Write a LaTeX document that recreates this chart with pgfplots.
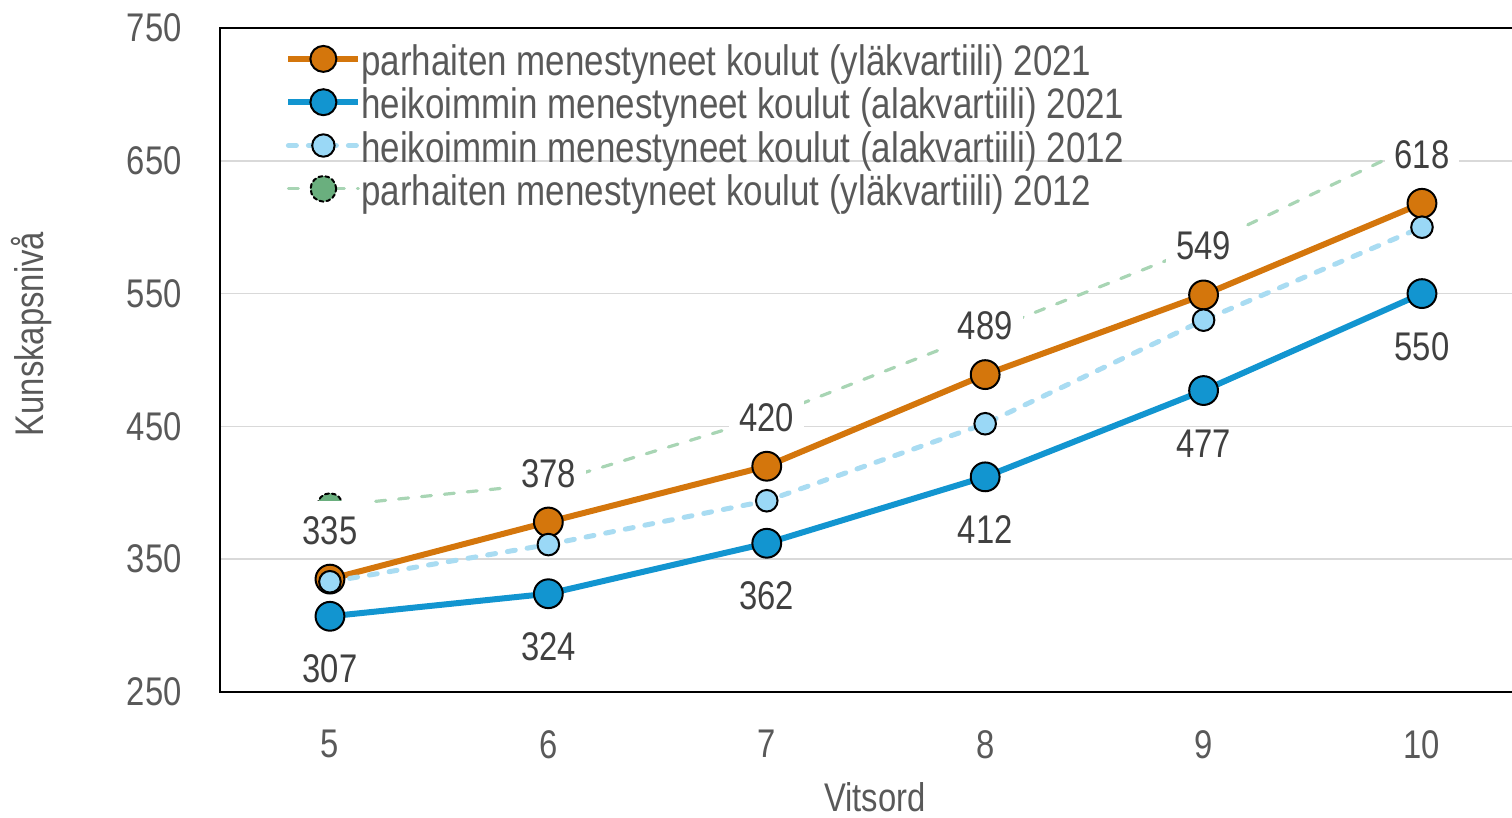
\documentclass[border=0pt]{standalone}
\usepackage{fontspec}
\setmainfont{Liberation Sans}[FakeStretch=0.82]
\usepackage{pgfplots}
\pgfplotsset{compat=1.18}
\definecolor{cOr}{HTML}{D4760C}
\definecolor{cBl}{HTML}{1295D0}
\definecolor{cLbM}{HTML}{9AD8F6}
\definecolor{cLbL}{HTML}{A9DCF2}
\definecolor{cGrL}{HTML}{A8D5B4}
\definecolor{cGrM}{HTML}{6AAF7E}
\definecolor{cGrid}{HTML}{D9D9D9}
\definecolor{cText}{HTML}{595959}
\definecolor{cLab}{HTML}{404040}
\begin{document}
\begin{tikzpicture}
\path[use as bounding box] (-110pt,-63pt) rectangle (646pt,346pt);
\begin{axis}[
  scale only axis, width=648pt, height=332pt,
  xmin=4.4965, xmax=10.4305, ymin=250, ymax=750,
  xtick={5,...,10}, ytick={250,350,...,750},
  major tick length=0pt,
  ymajorgrids, grid style={draw=cGrid, line width=0.8pt},
  axis line style={line width=1.2pt, black},
  /pgf/number format/assume math mode=true,
  ticklabel style={font=\fontsize{20}{24}\selectfont, text=cText},
  xticklabel style={anchor=north, inner sep=0pt, yshift=-19pt},
  yticklabel style={anchor=east, inner sep=0pt, xshift=-19pt},
  xlabel={Vitsord}, ylabel={Kunskapsnivå},
  label style={font=\fontsize{20}{24}\selectfont, text=cText},
  xlabel style={at={(rel axis cs:0.5054,0)}, anchor=north, inner sep=0pt, yshift=-45pt},
  ylabel style={at={(rel axis cs:-0.1458,0.539)}, anchor=center, inner sep=0pt},
  legend style={at={(rel axis cs:0,1)}, anchor=north west, xshift=32.5pt, yshift=-8.5pt,
    draw=none, fill=none, font=\fontsize{21.3}{24}\selectfont, text=cText,
    row sep=2.15pt, inner sep=0pt,
    nodes={inner sep=0pt, text height=15pt, text depth=4.5pt},
    /tikz/every odd column/.style={column sep=0pt}},
  legend cell align=left,
  legend image code/.code={\draw[mark repeat=2,mark phase=2,#1] plot coordinates {(0pt,3pt) (17.5pt,3pt) (35pt,3pt)};},
]
\addlegendimage{cOr, line width=3pt, mark=*, mark size=6.5pt, mark options={fill=cOr, draw=black, line width=1pt, solid}}
\addlegendentry{parhaiten menestyneet koulut (yläkvartiili) 2021}
\addlegendimage{cBl, line width=3pt, mark=*, mark size=6.5pt, mark options={fill=cBl, draw=black, line width=1pt, solid}}
\addlegendentry{heikoimmin menestyneet koulut (alakvartiili) 2021}
\addlegendimage{cLbL, line width=2.5pt, line cap=round, dash pattern=on 4pt off 6pt, mark=*, mark size=5.6pt, mark options={fill=cLbM, draw=black, line width=1pt, solid}}
\addlegendentry{heikoimmin menestyneet koulut (alakvartiili) 2012}
\addlegendimage{cGrL, line width=1.6pt, line cap=round, dash pattern=on 5pt off 6.5pt, mark=*, mark size=6.4pt, mark options={fill=cGrM, draw=black, line width=1pt, dash pattern=on 2pt off 1.5pt}}
\addlegendentry{parhaiten menestyneet koulut (yläkvartiili) 2012}

% 2012 upper quartile (green)
\addplot[forget plot, cGrL, line width=1.6pt, line cap=round, dash pattern=on 5pt off 6.5pt, mark=*, mark size=6.4pt, mark options={fill=cGrM, draw=black, line width=1pt, dash pattern=on 2pt off 1.5pt}]
  coordinates {(5,390) (6,407) (7,457) (8,521) (9,586) (10,664)};
% 2021 upper quartile (orange)
\addplot[forget plot, cOr, line width=3pt, mark=*, mark size=7.2pt, mark options={fill=cOr, draw=black, line width=1pt, solid}]
  coordinates {(5,335) (6,378) (7,420) (8,489) (9,549) (10,618)};
% 2021 lower quartile (blue)
\addplot[forget plot, cBl, line width=3pt, mark=*, mark size=7.2pt, mark options={fill=cBl, draw=black, line width=1pt, solid}]
  coordinates {(5,307) (6,324) (7,362) (8,412) (9,477) (10,550)};
% 2012 lower quartile (light blue)
\addplot[forget plot, cLbL, line width=2.5pt, line cap=round, dash pattern=on 4pt off 6pt, mark=*, mark size=5.4pt, mark options={fill=cLbM, draw=black, line width=1pt, solid}]
  coordinates {(5,333) (6,361) (7,394) (8,452) (9,530) (10,600)};

% data labels
\addplot[forget plot, draw=none, mark=none, nodes near coords, point meta=y,
  every node near coord/.append style={anchor=base, yshift=17.5pt, fill=white, inner xsep=5pt, inner ysep=3pt, text height=18.8pt, text depth=3pt, font=\fontsize{20}{24}\selectfont, text=cLab}]
  coordinates {(5,335) (6,378) (7,420) (8,489) (9,549) (10,618)};
\addplot[forget plot, draw=none, mark=none, nodes near coords, point meta=y,
  every node near coord/.append style={anchor=base, yshift=-33.3pt, inner sep=2pt, font=\fontsize{20}{24}\selectfont, text=cLab}]
  coordinates {(5,307) (6,324) (7,362) (8,412) (9,477) (10,550)};
\end{axis}
\end{tikzpicture}
\end{document}
